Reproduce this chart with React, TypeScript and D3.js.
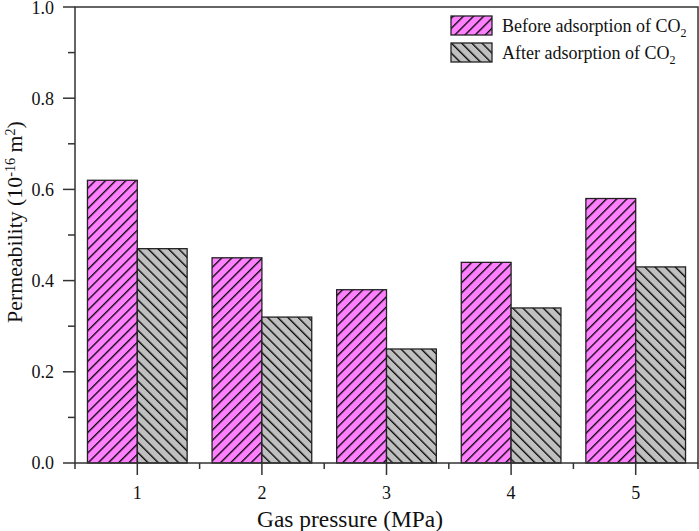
import * as React from 'react'
import { useEffect, useRef } from 'react'
import * as d3 from 'd3'

const categories = ['1', '2', '3', '4', '5']
const seriesNames = ['Before adsorption of CO', 'After adsorption of CO']
const beforeValues = [0.62, 0.45, 0.38, 0.44, 0.58]
const afterValues = [0.47, 0.32, 0.25, 0.34, 0.43]
const yTicks = [0, 0.2, 0.4, 0.6, 0.8, 1.0]
const yMinorTicks = [0.1, 0.3, 0.5, 0.7, 0.9]

const WIDTH = 699
const HEIGHT = 531
const FONT = '"Liberation Serif", "Times New Roman", serif'

export default function App() {
  const svgRef = useRef<SVGSVGElement>(null)

  useEffect(() => {
    if (!svgRef.current) return
    const svg = d3.select(svgRef.current)
    svg.selectAll('*').remove()

    const left = 75
    const right = 698
    const top = 7
    const bottom = 463
    const axisColor = '#333'

    const x = d3.scaleBand<string>()
      .domain(categories)
      .range([left, right])
      .paddingInner(0.2)
      .paddingOuter(0.1)
    const xSub = d3.scaleBand<number>()
      .domain([0, 1])
      .range([0, x.bandwidth()])
    const y = d3.scaleLinear().domain([0, 1]).range([bottom, top])

    // hatch patterns
    const defs = svg.append('defs')
    const gap = 7.2
    const hatch = (id: string, fill: string, angle: number) => {
      const p = defs.append('pattern')
        .attr('id', id)
        .attr('patternUnits', 'userSpaceOnUse')
        .attr('width', gap)
        .attr('height', gap)
        .attr('patternTransform', `rotate(${angle})`)
      p.append('rect').attr('width', gap).attr('height', gap).attr('fill', fill)
      p.append('line')
        .attr('x1', 0.7).attr('y1', -1).attr('x2', 0.7).attr('y2', gap + 1)
        .attr('stroke', '#000').attr('stroke-width', 1.3)
    }
    hatch('hatchBefore', '#FF80FF', 45)
    hatch('hatchAfter', '#C0C0C0', -45)
    const fills = ['url(#hatchBefore)', 'url(#hatchAfter)']

    const series = [beforeValues, afterValues]
    const g = svg.append('g')
    series.forEach((vals, si) => {
      g.selectAll(`rect.s${si}`)
        .data(vals)
        .join('rect')
        .attr('class', `s${si}`)
        .attr('x', (_, i) => (x(categories[i]) as number) + (xSub(si) as number))
        .attr('y', d => y(d))
        .attr('width', xSub.bandwidth())
        .attr('height', d => y(0) - y(d))
        .attr('fill', fills[si])
        .attr('stroke', '#222')
        .attr('stroke-width', 1.3)
    })

    // frame
    svg.append('rect')
      .attr('x', left).attr('y', top)
      .attr('width', right - left).attr('height', bottom - top)
      .attr('fill', 'none')
      .attr('stroke', axisColor)
      .attr('stroke-width', 1.5)

    // y ticks
    const yAxis = svg.append('g')
    yTicks.forEach(t => {
      yAxis.append('line')
        .attr('x1', left - 12).attr('x2', left)
        .attr('y1', y(t)).attr('y2', y(t))
        .attr('stroke', axisColor).attr('stroke-width', 1.5)
      yAxis.append('text')
        .attr('x', left - 21)
        .attr('y', Math.max(y(t), 8))
        .attr('dy', '0.36em')
        .attr('text-anchor', 'end')
        .attr('font-family', FONT)
        .attr('font-size', 18)
        .attr('fill', '#111')
        .text(d3.format('.1f')(t))
    })
    yMinorTicks.forEach(t => {
      yAxis.append('line')
        .attr('x1', left - 7).attr('x2', left)
        .attr('y1', y(t)).attr('y2', y(t))
        .attr('stroke', axisColor).attr('stroke-width', 1.5)
    })

    // x ticks
    const xAxis = svg.append('g')
    const step = x.step()
    categories.forEach((c, i) => {
      const cx = (x(c) as number) + x.bandwidth() / 2
      xAxis.append('line')
        .attr('x1', cx).attr('x2', cx)
        .attr('y1', bottom).attr('y2', bottom + 12)
        .attr('stroke', axisColor).attr('stroke-width', 1.5)
      xAxis.append('text')
        .attr('x', cx)
        .attr('y', bottom + 36)
        .attr('text-anchor', 'middle')
        .attr('font-family', FONT)
        .attr('font-size', 18)
        .attr('fill', '#111')
        .text(c)
      const edges = i === 0 ? [cx - step / 2, cx + step / 2] : [cx + step / 2]
      edges.forEach(ex => {
        xAxis.append('line')
          .attr('x1', ex).attr('x2', ex)
          .attr('y1', bottom).attr('y2', bottom + 6)
          .attr('stroke', axisColor).attr('stroke-width', 1.5)
      })
    })

    // fit a title to the width it has in the reference
    const fitTo = (node: SVGTextElement | null, target: number, base: number) => {
      if (!node) return
      const len = node.getComputedTextLength()
      if (len > 0) {
        const k = target / len
        d3.select(node).attr('font-size', base * k)
        d3.select(node).selectAll('tspan.sup').attr('font-size', 13 * k)
      }
    }

    // axis titles
    const xt = svg.append('text')
      .attr('x', 350)
      .attr('y', 527)
      .attr('text-anchor', 'middle')
      .attr('font-family', FONT)
      .attr('font-size', 22)
      .attr('fill', '#111')
      .text('Gas pressure (MPa)')
    fitTo(xt.node(), 186, 22)

    const yt = svg.append('text')
      .attr('transform', `translate(22, 222) rotate(-90)`)
      .attr('text-anchor', 'middle')
      .attr('font-family', FONT)
      .attr('font-size', 20)
      .attr('fill', '#111')
    yt.append('tspan').text('Permeability (10')
    yt.append('tspan').attr('class', 'sup').attr('font-size', 13).attr('dy', -7).text('-16')
    yt.append('tspan').attr('dy', 7).text(' m')
    yt.append('tspan').attr('class', 'sup').attr('font-size', 13).attr('dy', -7).text('2')
    yt.append('tspan').attr('dy', 7).text(')')
    fitTo(yt.node(), 202, 20)

    // legend
    const legend = svg.append('g')
    seriesNames.forEach((name, i) => {
      const ly = 16 + i * 27
      legend.append('rect')
        .attr('x', 451).attr('y', ly)
        .attr('width', 41).attr('height', 19)
        .attr('fill', fills[i])
        .attr('stroke', '#222')
        .attr('stroke-width', 1.3)
      const t = legend.append('text')
        .attr('x', 502)
        .attr('y', ly + 16)
        .attr('font-family', FONT)
        .attr('font-size', 18)
        .attr('fill', '#111')
      t.append('tspan').text(name)
      t.append('tspan').attr('font-size', 12).attr('dy', 5).text('2')
    })
  }, [])

  return (
    <svg
      ref={svgRef}
      width={WIDTH}
      height={HEIGHT}
      style={{ position: 'absolute', left: 0, top: 0, background: '#fff' }}
    />
  )
}
